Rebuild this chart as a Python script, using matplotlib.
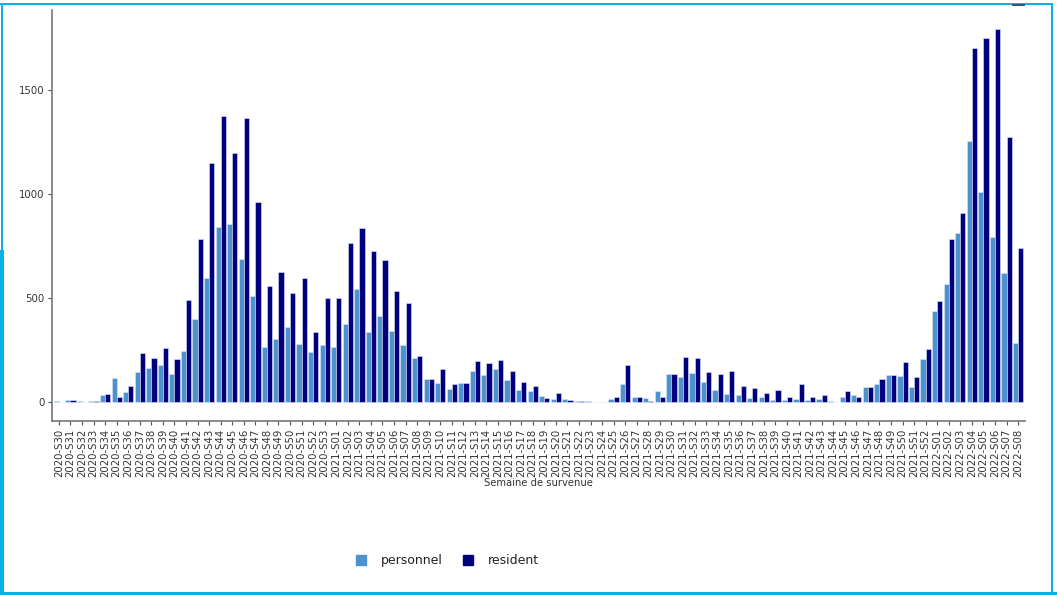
#!/usr/bin/env python3
"""Weekly cases by surveillance week: staff (personnel) vs residents."""

import matplotlib

matplotlib.use("Agg")
import matplotlib.pyplot as plt  # noqa: E402
import numpy as np  # noqa: E402
from matplotlib.lines import Line2D  # noqa: E402
from matplotlib.patches import Rectangle  # noqa: E402


weeks = (
    [f"2020-S{w:02d}" for w in range(30, 54)]
    + [f"2021-S{w:02d}" for w in range(1, 53)]
    + [f"2022-S{w:02d}" for w in range(1, 9)]
)

personnel = [
    3, 8, 5, 4, 35, 115, 48, 144, 163, 176, 135, 247, 397, 595, 840, 856, 689, 508,
    264, 304, 361, 279, 242, 274,
    266, 375, 542, 335, 413, 341, 272, 213, 109, 90, 62, 90, 147, 131, 160, 104,
    59, 54, 27, 14, 14, 5, 5, 1, 14, 88, 22, 19, 53, 135, 122, 138, 96, 58, 40,
    34, 19, 26, 10, 11, 14, 10, 13, 6, 24, 32, 72, 85, 130, 127, 74, 205,
    439, 567, 814, 1256, 1010, 792, 622, 282,
]
resident = [
    1, 8, 1, 6, 38, 22, 75, 236, 210, 261, 207, 492, 784, 1151, 1377, 1196, 1367, 962,
    556, 623, 522, 595, 337, 498,
    498, 766, 838, 724, 683, 535, 474, 220, 111, 157, 87, 93, 196, 189, 204, 151,
    95, 77, 21, 46, 8, 6, 1, 0, 26, 180, 22, 5, 26, 135, 216, 213, 146, 133, 151,
    79, 67, 42, 59, 22, 87, 26, 32, 1, 54, 22, 72, 112, 130, 194, 122, 253,
    487, 782, 907, 1704, 1748, 1795, 1274, 739,
]

LIGHT = "#4b92cf"
DARK = "#00007f"
BORDER = "#0bb0e6"


def main() -> None:
    fig = plt.figure(figsize=(10.57, 5.95), dpi=100)
    ax = fig.add_axes([52 / 1057, 1 - 421 / 595, (1025 - 52) / 1057, (421 - 10) / 595])

    x = np.arange(len(weeks))
    w = 0.45
    ax.bar(x - w / 2, personnel, width=w, color=LIGHT, edgecolor="#dfe6f5", linewidth=0.4)
    ax.bar(x + w / 2, resident, width=w, color=DARK, edgecolor="#dfe6f5", linewidth=0.4)

    ax.set_xlim(-0.6, len(weeks) - 0.4)
    ax.set_ylim(-91, 1885)
    ax.set_yticks([0, 500, 1000, 1500])
    ax.set_xticks(x, weeks, rotation=90)
    ax.tick_params(axis="both", colors="#555555", labelcolor="#333333", labelsize=7.3,
                   length=3, width=0.8, pad=2.5)
    for side in ["top", "right"]:
        ax.spines[side].set_visible(False)
    for side in ["left", "bottom"]:
        ax.spines[side].set_color("#777777")
        ax.spines[side].set_linewidth(1.2)
    ax.set_xlabel("Semaine de survenue", fontsize=7.2, color="#333333", labelpad=1)

    handles = [
        Line2D([], [], marker="s", linestyle="none", markersize=7, color=LIGHT),
        Line2D([], [], marker="s", linestyle="none", markersize=7, color=DARK),
    ]
    fig.legend(handles, ["personnel", "resident"], loc="center", bbox_to_anchor=(0.420, 0.058),
               ncols=2, frameon=False, fontsize=9, handletextpad=0.6, columnspacing=1.0,
               labelcolor="#222222")

    # cyan frame around the picture
    fig.add_artist(Rectangle((0.0, 0.0), 4 / 1057, 345 / 595, transform=fig.transFigure,
                             color=BORDER, lw=0))
    fig.add_artist(Rectangle((1 / 1057, 345 / 595), 2 / 1057, 247 / 595, transform=fig.transFigure,
                             color=BORDER, lw=0))
    fig.add_artist(Rectangle((0.0, 0.0), 1.0, 3 / 595, transform=fig.transFigure,
                             color=BORDER, lw=0))
    fig.add_artist(Rectangle((0.0, 1 - 5 / 595), 1052 / 1057, 2 / 595, transform=fig.transFigure,
                             color=BORDER, lw=0))
    fig.add_artist(Rectangle((1051 / 1057, 0.0), 2 / 1057, 1 - 3 / 595, transform=fig.transFigure,
                             color=BORDER, lw=0))
    fig.add_artist(Rectangle((1012 / 1057, 1 - 6 / 595), 13 / 1057, 2 / 595, transform=fig.transFigure,
                             color="#3c4f8a", lw=0))

    fig.savefig("out.png", dpi=100)
    plt.close(fig)


if __name__ == "__main__":
    main()
